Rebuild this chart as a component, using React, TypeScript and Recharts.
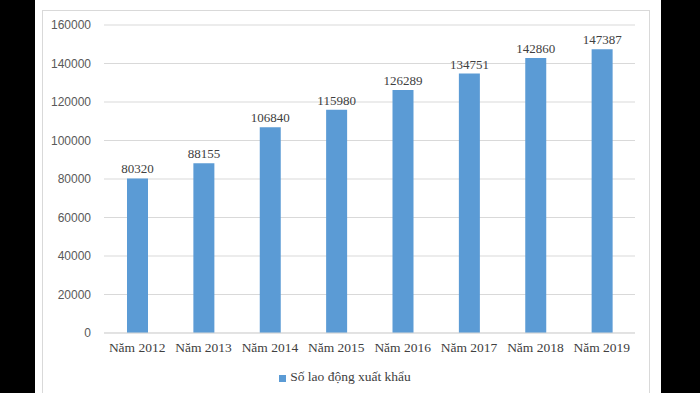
import React from 'react'
import { BarChart, Bar, XAxis, YAxis, CartesianGrid, Legend, LabelList } from 'recharts'

const years = ['Năm 2012', 'Năm 2013', 'Năm 2014', 'Năm 2015', 'Năm 2016', 'Năm 2017', 'Năm 2018', 'Năm 2019']
const workers = [80320, 88155, 106840, 115980, 126289, 134751, 142860, 147387]
const yTicks = [0, 20000, 40000, 60000, 80000, 100000, 120000, 140000, 160000]
const seriesName = 'Số lao động xuất khẩu'

const data = years.map((y, i) => ({ year: y, value: workers[i] }))

const serif = '"Liberation Serif", "Times New Roman", serif'

export default function App() {
  return (
    <div style={{ position: 'absolute', left: 0, top: 0, width: 700, height: 393, background: '#000', overflow: 'hidden' }}>
      <div style={{ position: 'absolute', left: 35, top: 0, width: 626, height: 393, background: '#fff' }} />
      <div style={{ position: 'absolute', left: 42, top: 10, width: 606, height: 400, border: '1px solid #d9d9d9' }} />
      <div style={{ position: 'absolute', left: 0, top: 0 }}>
        <BarChart width={700} height={393} data={data} margin={{ top: 25, right: 65, bottom: 14, left: 44 }}>
          <CartesianGrid vertical={false} stroke="#d9d9d9" />
          <XAxis
            dataKey="year"
            tickLine={false}
            axisLine={{ stroke: '#d9d9d9' }}
            tickSize={0}
            tickMargin={9}
            tick={{ fill: '#404040', fontSize: 13.5, fontFamily: serif }}
          />
          <YAxis
            width={60}
            domain={[0, 160000]}
            ticks={yTicks}
            axisLine={false}
            tickLine={false}
            tickSize={0}
            tickMargin={13}
            tick={{ fill: '#595959', fontSize: 12, fontFamily: '"Liberation Sans", Arial, sans-serif' }}
          />
          <Legend
            verticalAlign="bottom"
            iconType="square"
            iconSize={7}
            wrapperStyle={{ left: 0, width: 700, top: 369, fontFamily: serif, fontSize: 13 }}
            formatter={(v) => <span style={{ color: '#404040', fontFamily: serif, fontSize: 13.5 }}>{v}</span>}
          />
          <Bar dataKey="value" name={seriesName} fill="#5b9bd5" barSize={21} isAnimationActive={false}>
            <LabelList dataKey="value" position="top" offset={5} style={{ fill: '#404040', fontSize: 13, fontFamily: serif }} />
          </Bar>
        </BarChart>
      </div>
    </div>
  )
}
